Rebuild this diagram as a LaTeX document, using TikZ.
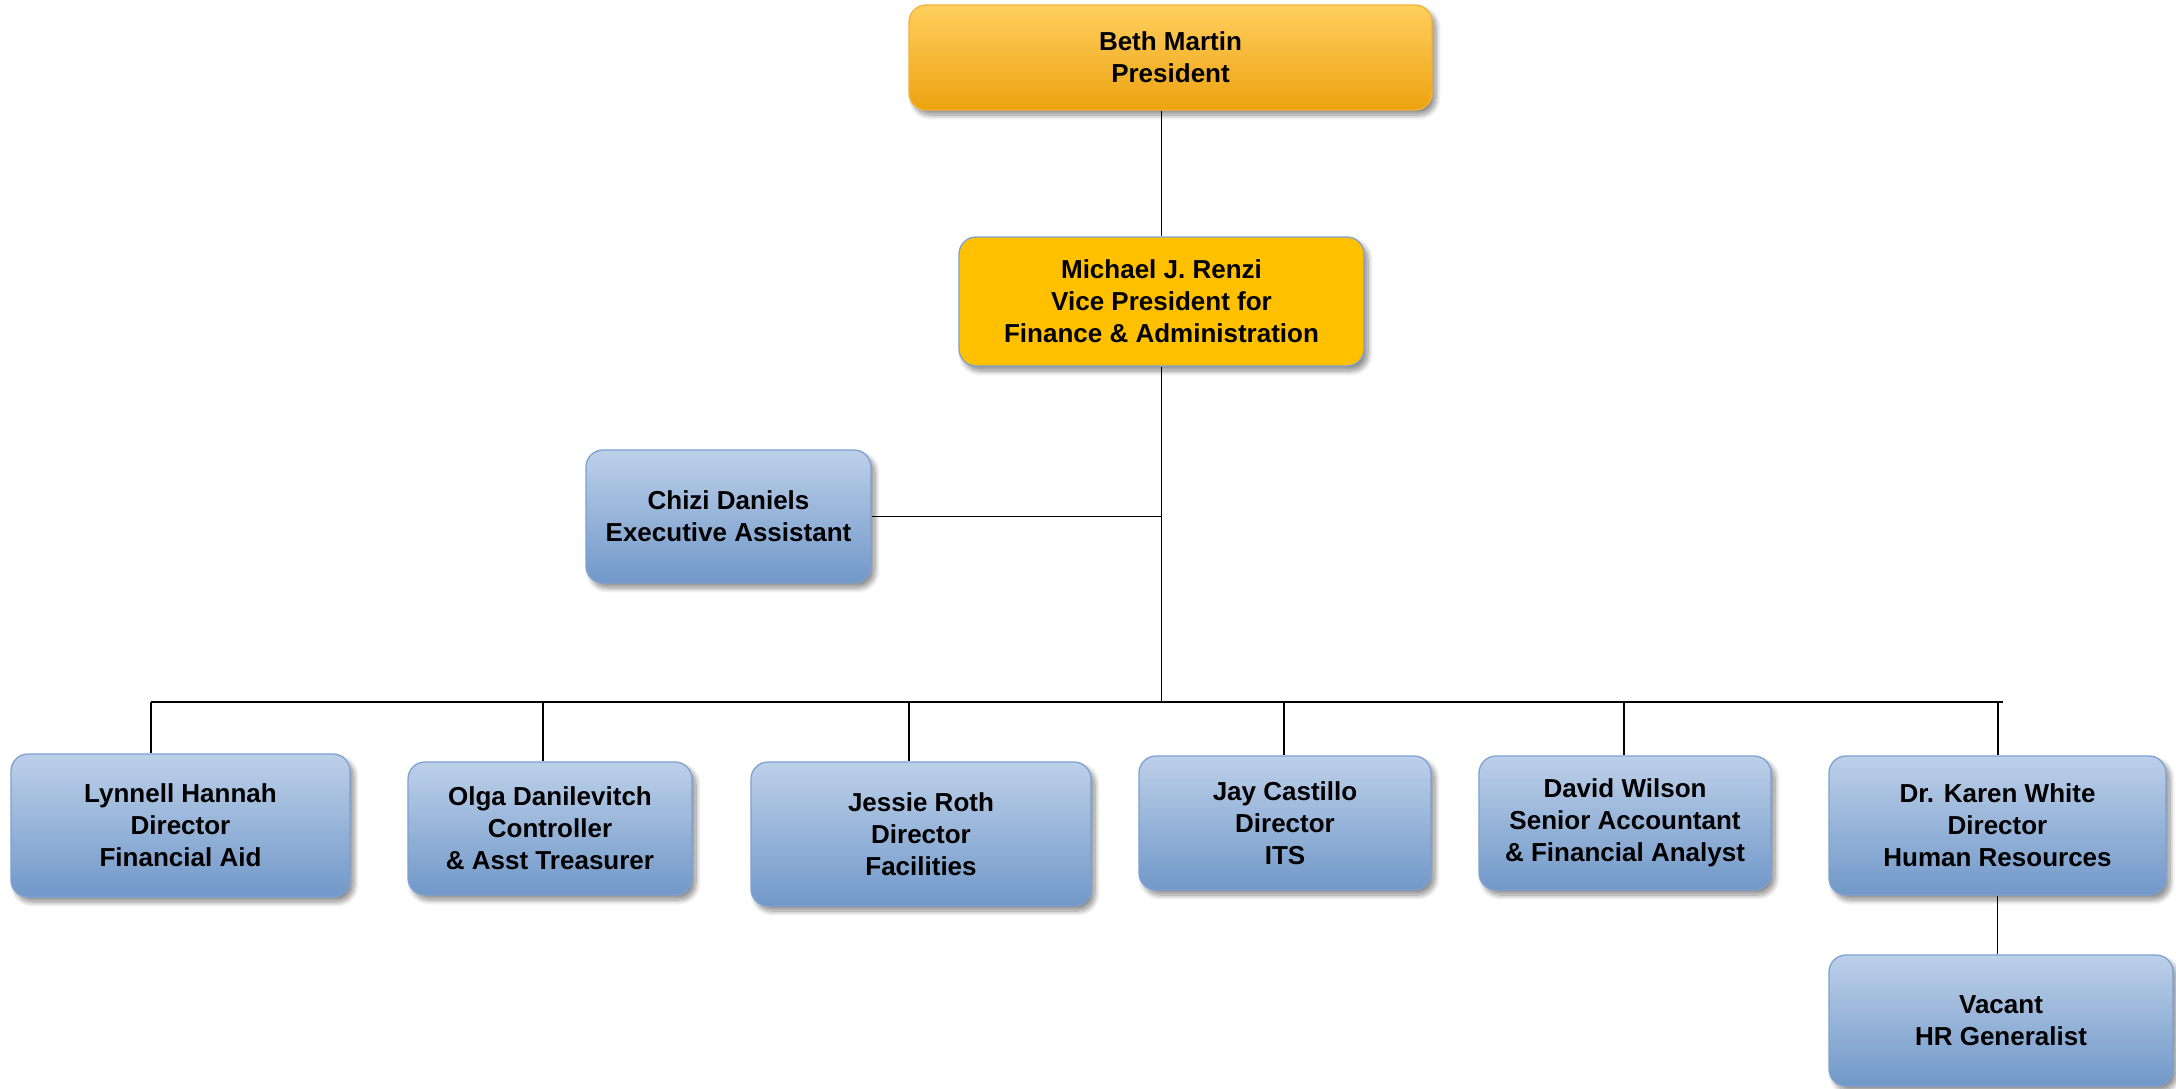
\documentclass[tikz,border=0pt]{standalone}
\usepackage{fontspec}
\setmainfont{Liberation Sans}
\usetikzlibrary{shadows,shadows.blur}
\definecolor{goldtop}{HTML}{FFCF5E}
\definecolor{goldbot}{HTML}{EDA210}
\definecolor{goldline}{HTML}{F2B33A}
\definecolor{vpfill}{HTML}{FFC000}
\definecolor{bluetop}{HTML}{BDD0E9}
\definecolor{bluebot}{HTML}{7198C9}
\definecolor{blueline}{HTML}{7DA1D2}
\begin{document}
\begin{tikzpicture}[x=1pt,y=-1pt,
  orgbox/.style={rounded corners=17pt, align=center, inner sep=0pt,
    font=\bfseries\fontsize{26}{32}\selectfont, line width=1.3pt,
    blur shadow={shadow xshift=4pt, shadow yshift=-5pt, shadow blur radius=5pt, shadow blur steps=10, shadow opacity=45}},
  bluebox/.style={orgbox, draw=blueline, top color=bluetop, bottom color=bluebot},
  goldbox/.style={orgbox, draw=goldline, top color=goldtop, bottom color=goldbot},
  vpbox/.style={orgbox, draw=blueline, fill=vpfill},
  link/.style={line width=1.8pt, black}]
\useasboundingbox (0,0) rectangle (2176,1088);

\node[goldbox, minimum width=523pt, minimum height=105pt] (beth) at (1170.5,57.5) {Beth Martin\\President};
\node[vpbox, minimum width=405pt, minimum height=129pt] (vp) at (1161.5,301.5) {Michael J. Renzi\\Vice President for\\Finance \& Administration};
\node[bluebox, minimum width=285pt, minimum height=133pt] (chizi) at (728.5,516.5) {Chizi Daniels\\Executive Assistant};

\node[bluebox, minimum width=339pt, minimum height=143pt] (lyn) at (180.5,825.5) {Lynnell Hannah\\Director\\Financial Aid};
\node[bluebox, minimum width=284pt, minimum height=133pt] (olga) at (550,828.5) {Olga Danilevitch\\Controller\\\& Asst Treasurer};
\node[bluebox, minimum width=340pt, minimum height=144pt] (jessie) at (921,834) {Jessie Roth\\Director\\Facilities};
\node[bluebox, minimum width=292pt, minimum height=134pt] (jay) at (1285,823) {Jay Castillo\\Director\\ITS};
\node[bluebox, minimum width=292pt, minimum height=134pt] (david) at (1625,823) {David Wilson\\Senior Accountant\\\& Financial Analyst};
\node[bluebox, minimum width=337pt, minimum height=139pt] (karen) at (1997.5,825.5) {Dr. Karen White\\Director\\Human Resources};
\node[bluebox, minimum width=344pt, minimum height=131pt] (vac) at (2001,1020.5) {Vacant\\HR Generalist};

\coordinate (busL) at (151,702);
\coordinate (busR) at (2003,702);
\coordinate (d1) at (151,702);
\coordinate (d2) at (543,702);
\coordinate (d3) at (909,702);
\coordinate (d4) at (1284,702);
\coordinate (d5) at (1624,702);
\coordinate (d6) at (1998,702);

\draw[link] (vp.north |- beth.south) -- (vp.north);
\draw[link] (vp.south) -- (vp.south |- busL);
\draw[link] (chizi.east) -- (chizi.east -| vp.south);
\draw[link] (busL) -- (busR);
\draw[link] (d1) -- (d1 |- lyn.north);
\draw[link] (d2) -- (d2 |- olga.north);
\draw[link] (d3) -- (d3 |- jessie.north);
\draw[link] (d4) -- (d4 |- jay.north);
\draw[link] (d5) -- (d5 |- david.north);
\draw[link] (d6) -- (d6 |- karen.north);
\draw[link] (karen.south) -- (karen.south |- vac.north);
\end{tikzpicture}
\end{document}
